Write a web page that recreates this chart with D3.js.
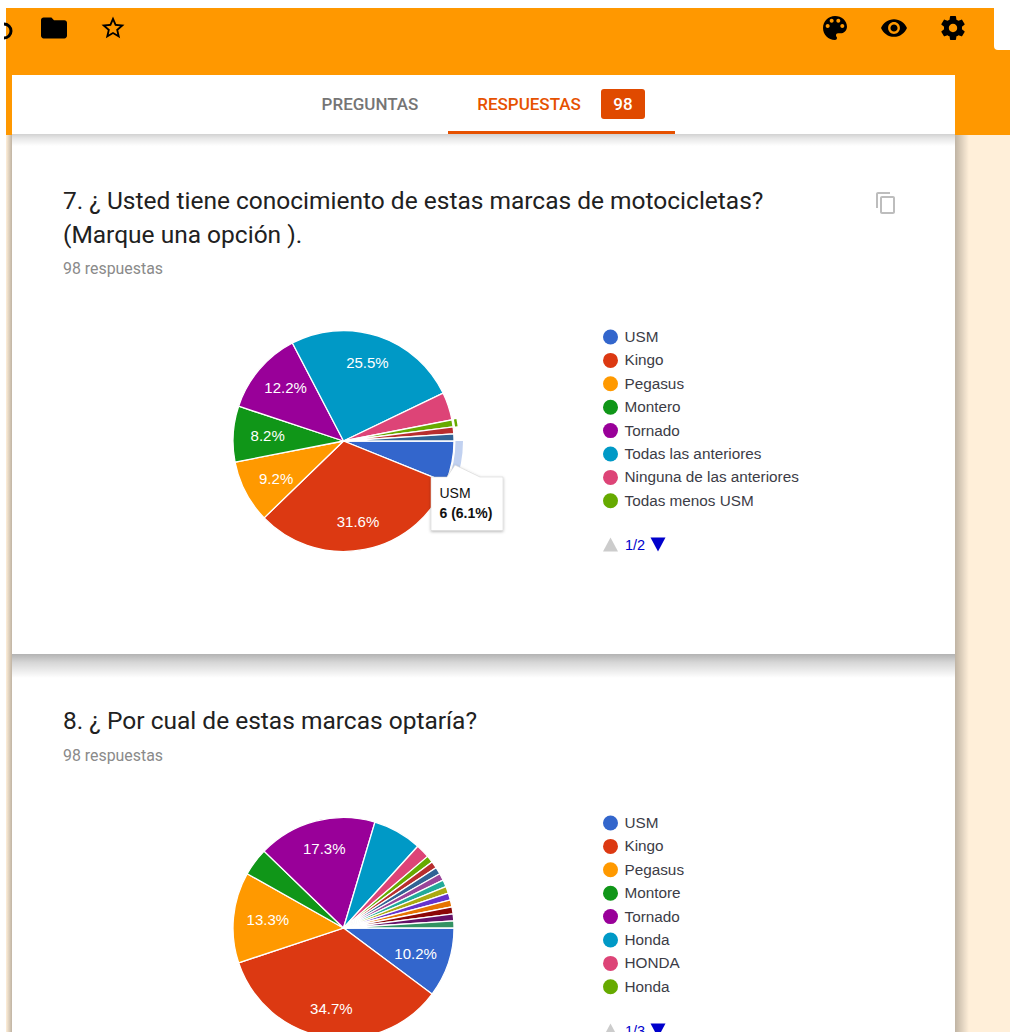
<!DOCTYPE html>
<html>
<head>
<meta charset="utf-8">
<script src="https://cdnjs.cloudflare.com/ajax/libs/d3/7.8.5/d3.min.js"></script>
<style>
html, body { margin: 0; padding: 0; background: #fff; overflow: hidden; }
svg { display: block; }
text { font-family: "Liberation Sans", Arial, sans-serif; }
.rb { font-family: Roboto, sans-serif; }
</style>
</head>
<body>
<div id="chart"></div>
<script>
// google charts default palette
const colors = ['#3366cc','#dc3912','#ff9900','#109618','#990099','#0099c6','#dd4477','#66aa00','#b82e2e','#316395','#994499','#22aa99','#aaaa11','#6633cc','#e67300','#8b0707','#651067','#329262'];

// question 7
const q7Labels = ['USM','Kingo','Pegasus','Montero','Tornado','Todas las anteriores','Ninguna de las anteriores','Todas menos USM'];
const q7Values = [6,31,9,8,12,25,4,1,1,1];
const q7Title = ['7. ¿ Usted tiene conocimiento de estas marcas de motocicletas?','(Marque una opción ).'];

// question 8
const q8Labels = ['USM','Kingo','Pegasus','Montore','Tornado','Honda','HONDA','Honda'];
const q8Values = [10,34,13,4,17,7,2,1,1,1,1,1,1,1,1,1,1,1];
const q8Title = ['8. ¿ Por cual de estas marcas optaría?'];

const totalAnswers = 98;

const icons = {
    folder: 'M10 4H4c-1.1 0-1.99.9-1.99 2L2 18c0 1.1.9 2 2 2h16c1.1 0 2-.9 2-2V8c0-1.1-.9-2-2-2h-8l-2-2z',
    star: 'M22 9.24l-7.19-.62L12 2 9.19 8.63 2 9.24l5.46 4.73L5.82 21 12 17.27 18.18 21l-1.63-7.03L22 9.24zM12 15.4l-3.76 2.27 1-4.28-3.32-2.88 4.38-.38L12 6.1l1.71 4.04 4.38.38-3.32 2.88 1 4.28L12 15.4z',
    palette: 'M12 3c-4.97 0-9 4.03-9 9s4.03 9 9 9c.83 0 1.5-.67 1.5-1.5 0-.39-.15-.74-.39-1.01-.23-.26-.38-.61-.38-.99 0-.83.67-1.5 1.5-1.5H16c2.76 0 5-2.24 5-5 0-4.42-4.03-8-9-8zm-5.5 9c-.83 0-1.5-.67-1.5-1.5S5.67 9 6.5 9 8 9.67 8 10.5 7.33 12 6.5 12zm3-4C8.67 8 8 7.33 8 6.5S8.67 5 9.5 5s1.5.67 1.5 1.5S10.33 8 9.5 8zm5 0c-.83 0-1.5-.67-1.5-1.5S13.67 5 14.5 5s1.5.67 1.5 1.5S15.33 8 14.5 8zm3 4c-.83 0-1.5-.67-1.5-1.5S16.67 9 17.5 9s1.5.67 1.5 1.5-.67 1.5-1.5 1.5z',
    eye: 'M12 4.5C7 4.5 2.73 7.61 1 12c1.73 4.39 6 7.5 11 7.5s9.27-3.11 11-7.5c-1.73-4.39-6-7.5-11-7.5zM12 17c-2.76 0-5-2.24-5-5s2.24-5 5-5 5 2.24 5 5-2.24 5-5 5zm0-8c-1.66 0-3 1.34-3 3s1.34 3 3 3 3-1.34 3-3-1.34-3-3-3z',
    gear: 'M19.43 12.98c.04-.32.07-.64.07-.98s-.03-.66-.07-.98l2.11-1.65c.19-.15.24-.42.12-.64l-2-3.46c-.12-.22-.39-.3-.61-.22l-2.49 1c-.52-.4-1.08-.73-1.69-.98l-.38-2.65C14.46 2.18 14.25 2 14 2h-4c-.25 0-.46.18-.49.42l-.38 2.65c-.61.25-1.17.59-1.69.98l-2.49-1c-.23-.09-.49 0-.61.22l-2 3.46c-.13.22-.07.49.12.64l2.11 1.65c-.04.32-.07.65-.07.98s.03.66.07.98l-2.11 1.65c-.19.15-.24.42-.12.64l2 3.46c.12.22.39.3.61.22l2.49-1c.52.4 1.08.73 1.69.98l.38 2.65c.03.24.24.42.49.42h4c.25 0 .46-.18.49-.42l.38-2.65c.61-.25 1.17-.59 1.69-.98l2.49 1c.23.09.49 0 .61-.22l2-3.46c.12-.22.07-.49-.12-.64l-2.11-1.65zM12 15.5c-1.93 0-3.5-1.57-3.5-3.5s1.57-3.5 3.5-3.5 3.5 1.57 3.5 3.5-1.57 3.5-3.5 3.5z',
    copy: 'M16 1H4c-1.1 0-2 .9-2 2v14h2V3h12V1zm3 4H8c-1.1 0-2 .9-2 2v14c0 1.1.9 2 2 2h11c1.1 0 2-.9 2-2V7c0-1.1-.9-2-2-2zm0 16H8V7h11v14z'
};

const width = 1010, height = 1032;
const svg = d3.select('#chart').append('svg').attr('width', width).attr('height', height);
const defs = svg.append('defs');

function gradient(id, x2, y2, stops) {
    let g = defs.append('linearGradient').attr('id', id)
        .attr('x1', 0).attr('y1', 0).attr('x2', x2).attr('y2', y2);
    stops.forEach(s => g.append('stop').attr('offset', s[0]).attr('stop-color', s[1]).attr('stop-opacity', s[2]));
}
gradient('shadowDown', 0, 1, [[0,'#000',0.30],[0.35,'#000',0.16],[1,'#000',0]]);
gradient('shadowLeft', 1, 0, [[0,'#000',0],[1,'#000',0.25]]);
gradient('shadowRight', 1, 0, [[0,'#000',0.25],[1,'#000',0]]);
defs.append('filter').attr('id', 'tipShadow').attr('x', '-20%').attr('y', '-20%').attr('width', '140%').attr('height', '140%')
    .append('feDropShadow').attr('dx', 0).attr('dy', 1).attr('stdDeviation', 1.5).attr('flood-color', '#000').attr('flood-opacity', 0.3);

// page background
svg.append('rect').attr('x', 6).attr('y', 135).attr('width', width - 6).attr('height', height - 135).attr('fill', '#ffefd9');
svg.append('rect').attr('x', 6).attr('y', 8).attr('width', width - 6).attr('height', 127).attr('fill', '#ff9800');
svg.append('path').attr('d', 'M1010 8H994V46a4 4 0 0 0 4 4H1010Z').attr('fill', '#fff');

// side shadows of the cards
svg.append('rect').attr('x', 6).attr('y', 135).attr('width', 6).attr('height', height - 135).attr('fill', 'url(#shadowLeft)');
svg.append('rect').attr('x', 955).attr('y', 135).attr('width', 14).attr('height', height - 135).attr('fill', 'url(#shadowRight)');

// white cards
svg.append('rect').attr('x', 12).attr('y', 75).attr('width', 943).attr('height', height - 75).attr('fill', '#fff');
svg.append('rect').attr('x', 12).attr('y', 134).attr('width', 943).attr('height', 12).attr('fill', 'url(#shadowDown)').attr('opacity', 0.6);
svg.append('rect').attr('x', 12).attr('y', 654).attr('width', 943).attr('height', 24).attr('fill', 'url(#shadowDown)');

// toolbar icons, placed by their centre
function icon(name, cx, cy, scale, fill) {
    svg.append('path').attr('d', icons[name])
        .attr('transform', 'translate(' + cx + ',' + cy + ') scale(' + scale + ') translate(-12,-12)')
        .attr('fill', fill || '#000');
}
// icon cut off by the left edge of the screenshot
svg.append('path')
    .attr('d', d3.arc().innerRadius(5.5).outerRadius(8.5).startAngle(0).endAngle(Math.PI)())
    .attr('transform', 'translate(4,31)');
icon('folder', 54, 28, 1.3);
icon('star', 113, 28, 1.15);
icon('palette', 835, 28, 1.33);
icon('eye', 894, 28, 1.18);
icon('gear', 953, 28, 1.2);

// tabs
svg.append('text').attr('class', 'rb').attr('x', 370).attr('y', 110).attr('text-anchor', 'middle')
    .attr('font-size', 17).attr('font-weight', 500).attr('fill', '#757575').text('PREGUNTAS');
svg.append('text').attr('class', 'rb').attr('x', 529).attr('y', 110).attr('text-anchor', 'middle')
    .attr('font-size', 17).attr('font-weight', 500).attr('fill', '#e65100').text('RESPUESTAS');
svg.append('rect').attr('x', 601).attr('y', 89).attr('width', 44).attr('height', 30).attr('rx', 3).attr('fill', '#e04a00');
svg.append('text').attr('class', 'rb').attr('x', 623).attr('y', 110).attr('text-anchor', 'middle')
    .attr('font-size', 17).attr('font-weight', 500).attr('fill', '#fff').text(totalAnswers);
svg.append('rect').attr('x', 448).attr('y', 131).attr('width', 227).attr('height', 3).attr('fill', '#e65100');

icon('copy', 886, 203, 1, '#bdbdbd');

function question(title, titleY, countY) {
    title.forEach((t, i) => {
        svg.append('text').attr('class', 'rb').attr('x', 63).attr('y', titleY + i * 34)
            .attr('font-size', 24.5).attr('fill', '#212121').text(t);
    });
    svg.append('text').attr('class', 'rb').attr('x', 63).attr('y', countY)
        .attr('font-size', 15.9).attr('fill', '#8a8a8a').text(totalAnswers + ' respuestas');
}

const pie = d3.pie().sort(null).startAngle(Math.PI / 2).endAngle(Math.PI * 2.5);
const radius = 110.5;

function drawPie(labels, values, cx, cy, legendY, page, hideBelow) {
    let legendX = 610.5;
    let g = svg.append('g').attr('transform', 'translate(' + cx + ',' + cy + ')');
    let arcs = pie(values);
    let arc = d3.arc().innerRadius(0).outerRadius(radius);
    let total = d3.sum(values);

    g.selectAll('path.slice')
        .data(arcs)
        .enter()
        .append('path')
        .attr('class', 'slice')
        .attr('d', arc)
        .attr('fill', (d, i) => colors[i])
        .attr('stroke', '#fff')
        .attr('stroke-width', 1.3);

    // percent labels sit on an ellipse, the text box is wider than tall
    g.selectAll('text.pct')
        .data(arcs.filter(d => d.value / total >= hideBelow))
        .enter()
        .append('text')
        .attr('class', 'pct')
        .attr('x', d => 76 * Math.sin((d.startAngle + d.endAngle) / 2))
        .attr('y', d => -82 * Math.cos((d.startAngle + d.endAngle) / 2))
        .attr('dy', '0.35em')
        .attr('text-anchor', 'middle')
        .attr('font-size', 15)
        .attr('fill', '#fff')
        .text(d => (d.value / total * 100).toFixed(1) + '%');

    // legend, first page only
    let leg = svg.selectAll('g.leg' + cy)
        .data(labels)
        .enter()
        .append('g')
        .attr('transform', (d, i) => 'translate(' + legendX + ',' + (legendY + i * 23.4) + ')');
    leg.append('circle').attr('r', 7.5).attr('fill', (d, i) => colors[i]);
    leg.append('text').attr('x', 14).attr('y', 5).attr('font-size', 15.3).attr('fill', '#3c3c46').text(d => d);

    let py = legendY + 207.5;
    svg.append('path').attr('d', d3.line()([[legendX - 7.5, py + 7], [legendX + 7.5, py + 7], [legendX, py - 7]]) + 'Z').attr('fill', '#ccc');
    svg.append('text').attr('x', legendX + 14.5).attr('y', py + 5).attr('font-size', 14.5).attr('fill', '#0000cc').text(page);
    svg.append('path').attr('d', d3.line()([[legendX + 40, py - 7], [legendX + 55, py - 7], [legendX + 47.5, py + 7]]) + 'Z').attr('fill', '#0000cc');

    return {g: g, arcs: arcs, total: total};
}

question(q7Title, 209, 274);
question(q8Title, 729, 761);

const p7 = drawPie(q7Labels, q7Values, 343.5, 441, 337, '1/2', 0.07);
drawPie(q8Labels, q8Values, 343.5, 928, 823, '1/3', 0.1);

// hover ring on USM and the leftover one on Todas menos USM
const ring = d3.arc().innerRadius(radius + 1.5).outerRadius(radius + 9);
p7.g.append('path').attr('d', ring(p7.arcs[0])).attr('fill', '#3366cc').attr('opacity', 0.3);
const thinRing = d3.arc().innerRadius(radius + 2).outerRadius(radius + 4.5);
p7.g.append('path').attr('d', thinRing(p7.arcs[7])).attr('fill', '#66aa00');

// tooltip
const tip = svg.append('g');
tip.append('path')
    .attr('d', 'M431 477H447L455 465L480 477H503V530.5H431Z')
    .attr('fill', '#fff').attr('stroke', '#ccc').attr('stroke-width', 0.5)
    .attr('filter', 'url(#tipShadow)');
tip.append('text').attr('x', 439.5).attr('y', 498).attr('font-size', 14).attr('fill', '#111').text(q7Labels[0]);
tip.append('text').attr('x', 439.5).attr('y', 518).attr('font-size', 14).attr('font-weight', 700).attr('fill', '#111')
    .text(q7Values[0] + ' (' + (q7Values[0] / p7.total * 100).toFixed(1) + '%)');
</script>
</body>
</html>
